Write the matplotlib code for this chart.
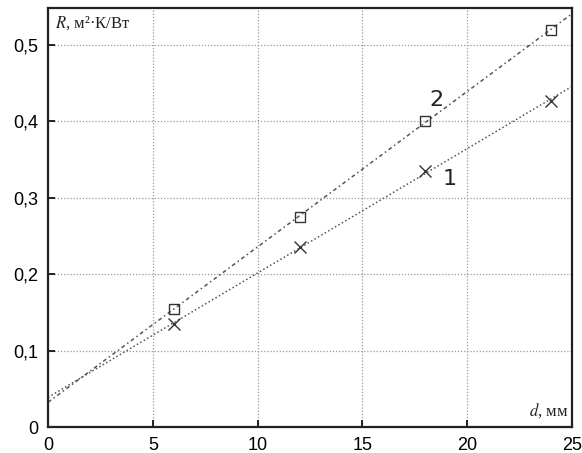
import numpy as np
import matplotlib.pyplot as plt

plt.rcParams['mathtext.fontset'] = 'stix'

# data
d_vals = [6, 12, 18, 24]
r_curve1 = [0.135, 0.235, 0.335, 0.427]
r_curve2 = [0.155, 0.275, 0.40, 0.52]

x_ticks = [0, 5, 10, 15, 20, 25]
y_ticks = [0, 0.1, 0.2, 0.3, 0.4, 0.5]
y_tick_labels = ['0', '0,1', '0,2', '0,3', '0,4', '0,5']

fig = plt.figure(figsize=(5.82, 4.53), dpi=100)
ax = fig.add_axes([0.0825, 0.057, 0.9005, 0.925])

# fitted straight lines over the whole range
xx = np.array([0, 25])
k1, b1 = np.polyfit(d_vals, r_curve1, 1)
k2, b2 = np.polyfit(d_vals, r_curve2, 1)
ax.plot(xx, k1 * xx + b1, color='#555555', lw=1.1, ls=(0, (1, 1.6)))
ax.plot(xx, k2 * xx + b2, color='#555555', lw=1.1, ls=(0, (2.5, 2, 1, 2)))

ax.plot(d_vals, r_curve1, ls='none', marker='x', ms=8, mew=1.0, color='#333333')
ax.plot(d_vals, r_curve2, ls='none', marker='s', ms=7, mew=1.0, mfc='none', mec='#333333')

ax.set_xlim(0, 25)
ax.set_ylim(0, 0.548)
ax.set_xticks(x_ticks)
ax.set_yticks(y_ticks)
ax.set_yticklabels(y_tick_labels)
ax.tick_params(direction='in', length=5, width=1.2, labelsize=13, pad=7)
for lbl in ax.get_xticklabels() + ax.get_yticklabels():
    lbl.set_fontfamily('Liberation Sans')

ax.grid(True, color='#999999', ls=(0, (1, 1.5)), lw=0.9)
for sp in ax.spines.values():
    sp.set_linewidth(1.6)
    sp.set_color('#222222')

ax.text(0.35, 0.528, r'$R$' + ', м²·К/Вт', fontsize=12, family='Liberation Serif',
        color='#222222', va='center')
ax.text(24.8, 0.022, r'$d$' + ', мм', fontsize=12, family='Liberation Serif',
        color='#222222', ha='right', va='center')
ax.text(18.8, 0.325, '1', fontsize=16, family='DejaVu Sans', color='#222222', va='center')
ax.text(18.2, 0.428, '2', fontsize=16, family='DejaVu Sans', color='#222222', va='center')

fig.savefig('out.png', dpi=100)
